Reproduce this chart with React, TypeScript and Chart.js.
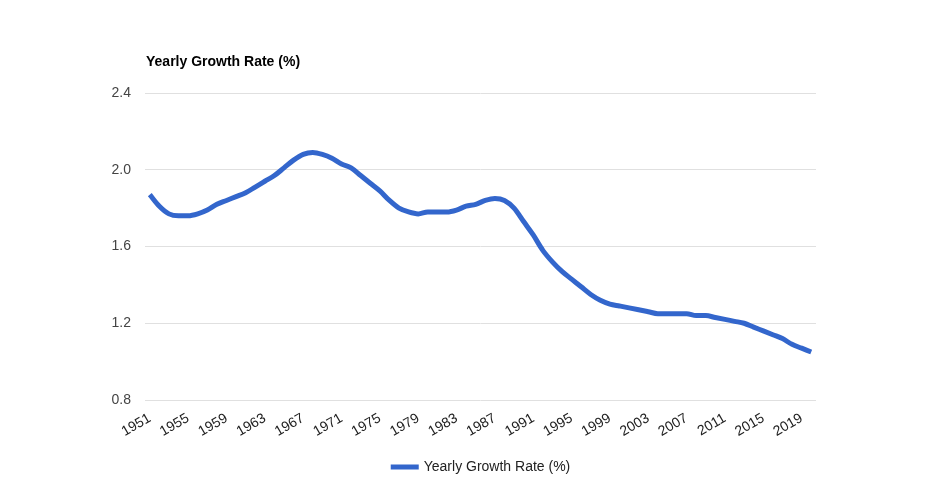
import React, { useEffect, useRef } from "react";
import { Chart, registerables } from "chart.js";

Chart.register(...registerables);

const years: number[] = [
  1951, 1952, 1953, 1954, 1955, 1956, 1957, 1958, 1959, 1960,
  1961, 1962, 1963, 1964, 1965, 1966, 1967, 1968, 1969, 1970,
  1971, 1972, 1973, 1974, 1975, 1976, 1977, 1978, 1979, 1980,
  1981, 1982, 1983, 1984, 1985, 1986, 1987, 1988, 1989, 1990,
  1991, 1992, 1993, 1994, 1995, 1996, 1997, 1998, 1999, 2000,
  2001, 2002, 2003, 2004, 2005, 2006, 2007, 2008, 2009, 2010,
  2011, 2012, 2013, 2014, 2015, 2016, 2017, 2018, 2019, 2020,
];

const growthRate: number[] = [
  1.87, 1.81, 1.77, 1.76, 1.76, 1.77, 1.79, 1.82, 1.84, 1.86,
  1.88, 1.91, 1.94, 1.97, 2.01, 2.05, 2.08, 2.09, 2.08, 2.06,
  2.03, 2.01, 1.97, 1.93, 1.89, 1.84, 1.8, 1.78, 1.77, 1.78,
  1.78, 1.78, 1.79, 1.81, 1.82, 1.84, 1.85, 1.84, 1.8, 1.73,
  1.66, 1.58, 1.52, 1.47, 1.43, 1.39, 1.35, 1.32, 1.3, 1.29,
  1.28, 1.27, 1.26, 1.25, 1.25, 1.25, 1.25, 1.24, 1.24, 1.23,
  1.22, 1.21, 1.2, 1.18, 1.16, 1.14, 1.12, 1.09, 1.07, 1.05,
];

const xTickYears: number[] = [
  1951, 1955, 1959, 1963, 1967, 1971, 1975, 1979, 1983, 1987,
  1991, 1995, 1999, 2003, 2007, 2011, 2015, 2019,
];

const yTicks: number[] = [0.8, 1.2, 1.6, 2.0, 2.4];

const seriesLabel = "Yearly Growth Rate (%)";
const titleText = "Yearly Growth Rate (%)";
const lineColor = "#3366cc";
const FONT = "Arial, 'Liberation Sans', sans-serif";

export default function App() {
  const ref = useRef<HTMLCanvasElement | null>(null);

  useEffect(() => {
    if (!ref.current) return;

    const titleAndLegend = {
      id: "titleAndLegend",
      afterDraw(chart: any) {
        const { ctx, chartArea } = chart;
        ctx.save();
        // title
        ctx.font = `bold 14px ${FONT}`;
        ctx.fillStyle = "#000000";
        ctx.textAlign = "left";
        ctx.textBaseline = "middle";
        ctx.fillText(titleText, chartArea.left + 1, 62);
        // legend
        ctx.font = `14px ${FONT}`;
        const tw = ctx.measureText(seriesLabel).width;
        const sw = 28;
        const gap = 5;
        const total = sw + gap + tw;
        const cx = (chartArea.left + chartArea.right) / 2;
        const x0 = cx - total / 2;
        const ly = 467;
        ctx.fillStyle = lineColor;
        ctx.fillRect(x0, ly - 2.5, sw, 5);
        ctx.fillStyle = "#222222";
        ctx.fillText(seriesLabel, x0 + sw + gap, ly);
        ctx.restore();
      },
    };

    const chart = new Chart(ref.current, {
      type: "line",
      data: {
        datasets: [
          {
            label: seriesLabel,
            data: years.map((y, i) => ({ x: y, y: growthRate[i] })),
            borderColor: lineColor,
            backgroundColor: lineColor,
            borderWidth: 5,
            pointRadius: 0,
            tension: 0.4,
            cubicInterpolationMode: "monotone",
            borderCapStyle: "butt",
            borderJoinStyle: "round",
          },
        ],
      },
      options: {
        animation: false,
        responsive: false,
        maintainAspectRatio: false,
        layout: { padding: { left: 0, right: 125, top: 93, bottom: 45 } },
        plugins: {
          legend: { display: false },
          title: { display: false },
          tooltip: { enabled: false },
        },
        scales: {
          x: {
            type: "linear",
            min: 1950.5,
            max: 2020.5,
            afterBuildTicks: (scale: any) => {
              scale.ticks = xTickYears.map((v) => ({ value: v }));
            },
            afterFit: (scale: any) => {
              scale.height = 50;
            },
            grid: { display: false, drawTicks: false },
            border: { display: false },
            ticks: {
              autoSkip: false,
              minRotation: 30,
              maxRotation: 30,
              padding: 10,
              color: "#222222",
              font: { family: FONT, size: 14 },
              callback: (v: any) => String(v),
            },
          },
          y: {
            min: 0.8,
            max: 2.4,
            afterBuildTicks: (scale: any) => {
              scale.ticks = yTicks.map((v) => ({ value: v }));
            },
            afterFit: (scale: any) => {
              scale.width = 145;
            },
            grid: { color: "#e0e0e0", lineWidth: 1, drawTicks: false },
            border: { display: false },
            ticks: {
              padding: 14,
              color: "#444444",
              font: { family: FONT, size: 14 },
              callback: (v: any) => Number(v).toFixed(1),
            },
          },
        },
      },
      plugins: [titleAndLegend],
    } as any);

    return () => chart.destroy();
  }, []);

  return (
    <div style={{ position: "fixed", left: 0, top: 0, width: 941, height: 495, background: "#fff" }}>
      <canvas ref={ref} width={941} height={495} style={{ width: 941, height: 495 }} />
    </div>
  );
}
